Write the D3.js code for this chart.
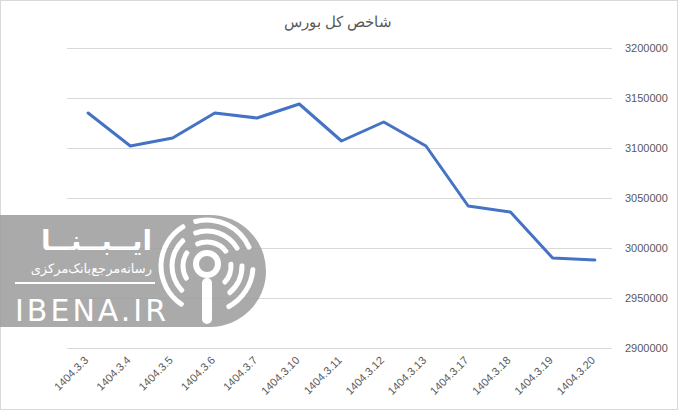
<!DOCTYPE html>
<html><head><meta charset="utf-8">
<script src="https://cdn.jsdelivr.net/npm/d3@7/dist/d3.min.js"></script>
<style>html,body{margin:0;padding:0;background:#fff;}svg{display:block;}</style>
</head><body>
<svg id="chart" width="678" height="410"></svg>
<script>
const title = "شاخص کل بورس";
const categories = ["1404.3.3","1404.3.4","1404.3.5","1404.3.6","1404.3.7","1404.3.10","1404.3.11","1404.3.12","1404.3.13","1404.3.17","1404.3.18","1404.3.19","1404.3.20"];
const values = [3135000,3102000,3110000,3135000,3130000,3144000,3107000,3126000,3102000,3042000,3036000,2990000,2988000];
const yTicks = [2900000,2950000,3000000,3050000,3100000,3150000,3200000];

(function(){
const svg = d3.select("#chart");
const W = 678, H = 410;
const font = "'Liberation Sans', Arial, sans-serif";
svg.append("rect").attr("x",0.5).attr("y",0.5).attr("width",W-1).attr("height",H-1)
  .attr("fill","#fff").attr("stroke","#d9d9d9");

const pL = 67, pR = 616, pT = 48, pB = 348;
const x = d3.scaleBand().domain(categories).range([pL, pR]);
const y = d3.scaleLinear().domain([2900000, 3200000]).range([pB, pT]);

const yAxis = d3.axisRight(y).tickValues(yTicks).tickSize(-(612-pL)).tickFormat(d3.format("d"));
const gy = svg.append("g").attr("transform",`translate(612,0)`).call(yAxis);
gy.select(".domain").remove();
gy.selectAll(".tick line").attr("stroke","#d9d9d9").attr("stroke-width",1);
gy.selectAll(".tick text").attr("x",13).attr("fill","#595959").attr("font-family",font).attr("font-size","11px");

const xAxis = d3.axisBottom(x).tickSize(0);
const gx = svg.append("g").attr("transform",`translate(0,${pB})`).call(xAxis);
gx.select(".domain").remove();
gx.selectAll(".tick text")
  .attr("fill","#595959").attr("font-family",font).attr("font-size","11px")
  .attr("text-anchor","end").attr("dy",0).attr("y",0)
  .attr("transform","translate(1,13) rotate(-45)");

svg.append("text").attr("x",338).attr("y",27).attr("text-anchor","middle")
  .attr("fill","#595959").attr("font-family",font).attr("font-size","15px").text(title);

const wm = svg.append("g").attr("opacity",0.85);
wm.append("path").attr("d","M0,215 L210,215 A56,56 0 0 1 210,327 L0,327 Z").attr("fill","#9c9c9c");
wm.append("text").attr("x",152).attr("y",250).attr("text-anchor","end").attr("fill","#fff")
  .attr("font-family","'Noto Sans', 'DejaVu Sans', sans-serif").attr("font-weight","bold").attr("font-size","28px").text("ایــبــنــا");
wm.append("text").attr("x",152).attr("y",273).attr("text-anchor","end").attr("fill","#fff")
  .attr("font-family","'Noto Sans', 'DejaVu Sans', sans-serif").attr("font-size","13px").text("رسانه‌مرجع‌بانک‌مرکزی");
wm.append("line").attr("x1",15).attr("x2",155).attr("y1",283).attr("y2",283).attr("stroke","#fff").attr("stroke-width",2);
wm.append("text").attr("x",15).attr("y",321).attr("fill","#fff")
  .attr("font-family","'DejaVu Sans', sans-serif").attr("font-size","30px").attr("letter-spacing","3px").text("IBENA.IR");
const cx = 207, cy = 266;
const ringSegs = [
  [[-2.6,-0.5],[-0.3,1.2],[1.6,2.7]],
  [[-2.4,-0.7],[-0.4,1.1],[1.5,2.5]],
  [[-2.2,-0.9],[-0.5,1.0],[1.4,2.4]]
];
[46,35,24].forEach((r,i)=>{
  const arc = d3.arc().innerRadius(r-2.5).outerRadius(r+2.5).cornerRadius(2);
  ringSegs[i].forEach(s=>{
    wm.append("path").attr("transform",`translate(${cx},${cy})`)
      .attr("d",arc({startAngle:s[0],endAngle:s[1]})).attr("fill","#fff");
  });
});
wm.append("circle").attr("cx",cx).attr("cy",cy-2).attr("r",11).attr("fill","none").attr("stroke","#fff").attr("stroke-width",6);
wm.append("rect").attr("x",cx-5).attr("y",cy+12).attr("width",10).attr("height",46).attr("rx",5).attr("fill","#fff");

const line = d3.line().x((d,i)=>x(categories[i])+x.bandwidth()/2).y(d=>y(d));
svg.append("path").datum(values).attr("d",line).attr("fill","none")
  .attr("stroke","#4472C4").attr("stroke-width",3).attr("stroke-linejoin","round").attr("stroke-linecap","round");
})();
</script>
</body></html>
